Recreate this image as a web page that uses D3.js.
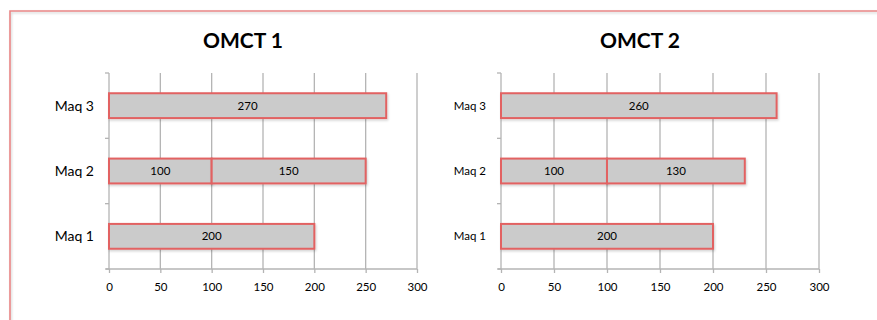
<!DOCTYPE html>
<html>
<head>
<meta charset="utf-8">
<script src="https://cdn.jsdelivr.net/npm/d3@7"></script>
<style>
  html, body { margin: 0; padding: 0; background: #ffffff; }
  svg { display: block; font-family: Lato, "Open Sans", sans-serif; }
</style>
</head>
<body>
<svg id="chart" width="877" height="320"></svg>
<script>
// Machine categories, listed top to bottom
const machines = ["Maq 3", "Maq 2", "Maq 1"];

// OMCT 1: first and second stacked segments per machine
const omct1First  = [270, 100, 200];
const omct1Second = [0, 150, 0];

// OMCT 2: first and second stacked segments per machine
const omct2First  = [260, 100, 200];
const omct2Second = [0, 130, 0];

// Value axis ticks
const xTicks = [0, 50, 100, 150, 200, 250, 300];

const panels = [
  { title: "OMCT 1", first: omct1First, second: omct1Second,
    x0: 109, x1: 417, labelSize: 14 },
  { title: "OMCT 2", first: omct2First, second: omct2Second,
    x0: 501, x1: 819, labelSize: 11.5 }
];

const svg = d3.select("#chart");

// soft drop shadow used on the frame and bars
const defs = svg.append("defs");
const sh = defs.append("filter").attr("id", "shadow")
  .attr("x", "-5%").attr("y", "-20%").attr("width", "115%").attr("height", "160%");
sh.append("feDropShadow").attr("dx", 1).attr("dy", 1.5)
  .attr("stdDeviation", 1).attr("flood-color", "#000").attr("flood-opacity", 0.18);

// outer frame: top and left edges
svg.append("path")
  .attr("d", "M10,320 L10,11 L877,11")
  .attr("fill", "none")
  .attr("stroke", "#e98686")
  .attr("stroke-width", 1.6)
  .attr("filter", "url(#shadow)");

const plotTop = 73, plotBottom = 269;
const gridColor = "#b4b4b4";

panels.forEach(p => {
  const g = svg.append("g");

  const x = d3.scaleLinear().domain([0, 300]).range([p.x0, p.x1]);
  const y = d3.scaleBand().domain(machines).range([plotTop, plotBottom])
    .paddingInner(0.62).paddingOuter(0.31);
  const yb = d3.scaleBand().domain(machines).range([plotTop, plotBottom]);

  // title
  g.append("text")
    .attr("x", (p.x0 + p.x1) / 2 - 20)
    .attr("y", 48)
    .attr("text-anchor", "middle")
    .attr("font-size", 21)
    .attr("font-weight", "bold")
    .attr("fill", "#000")
    .text(p.title);

  // vertical gridlines (skip 0, drawn as the axis)
  g.selectAll("line.grid").data(xTicks.slice(1)).join("line")
    .attr("class", "grid")
    .attr("x1", d => x(d)).attr("x2", d => x(d))
    .attr("y1", plotTop).attr("y2", plotBottom)
    .attr("stroke", gridColor).attr("stroke-width", 1.3);

  // bottom axis
  const xAxis = d3.axisBottom(x).tickValues(xTicks).tickSize(4).tickPadding(10);
  const ax = g.append("g").attr("transform", `translate(0,${plotBottom})`).call(xAxis);
  ax.select(".domain").attr("stroke", gridColor).attr("stroke-width", 1.3)
    .attr("d", `M${x(0) - 3},0H${x(300)}`);
  ax.selectAll(".tick line").attr("stroke", gridColor).attr("stroke-width", 1.3);
  ax.selectAll(".tick text").attr("font-size", 11.5).attr("fill", "#000")
    .attr("font-family", "Lato, 'Open Sans', sans-serif");

  // left axis with ticks at category boundaries
  g.append("line")
    .attr("x1", x(0)).attr("x2", x(0)).attr("y1", plotTop).attr("y2", plotBottom)
    .attr("stroke", gridColor).attr("stroke-width", 1.3);
  const bounds = machines.map(m => yb(m)).concat([plotBottom]);
  g.selectAll("line.ytick").data(bounds).join("line")
    .attr("class", "ytick")
    .attr("x1", x(0) - 4).attr("x2", x(0))
    .attr("y1", d => d).attr("y2", d => d)
    .attr("stroke", gridColor).attr("stroke-width", 1.3);

  // category labels
  g.selectAll("text.cat").data(machines).join("text")
    .attr("class", "cat")
    .attr("x", x(0) - 15)
    .attr("y", d => yb(d) + yb.bandwidth() / 2)
    .attr("dy", "0.35em")
    .attr("text-anchor", "end")
    .attr("font-size", p.labelSize)
    .attr("fill", "#000")
    .text(d => d);

  // stacked segments
  const segs = [];
  machines.forEach((m, i) => {
    const a = p.first[i], b = p.second[i];
    if (a > 0) segs.push({ m, start: 0, end: a, v: a });
    if (b > 0) segs.push({ m, start: a, end: a + b, v: b });
  });

  g.selectAll("rect.bar").data(segs).join("rect")
    .attr("class", "bar")
    .attr("x", d => x(d.start))
    .attr("y", d => y(d.m))
    .attr("width", d => x(d.end) - x(d.start))
    .attr("height", y.bandwidth())
    .attr("fill", "#cbcbcb")
    .attr("stroke", "#e26262")
    .attr("stroke-width", 2)
    .attr("filter", "url(#shadow)");

  g.selectAll("text.val").data(segs).join("text")
    .attr("class", "val")
    .attr("x", d => (x(d.start) + x(d.end)) / 2)
    .attr("y", d => y(d.m) + y.bandwidth() / 2)
    .attr("dy", "0.35em")
    .attr("text-anchor", "middle")
    .attr("font-size", 11.5)
    .attr("fill", "#000")
    .text(d => d.v);
});
</script>
</body>
</html>
